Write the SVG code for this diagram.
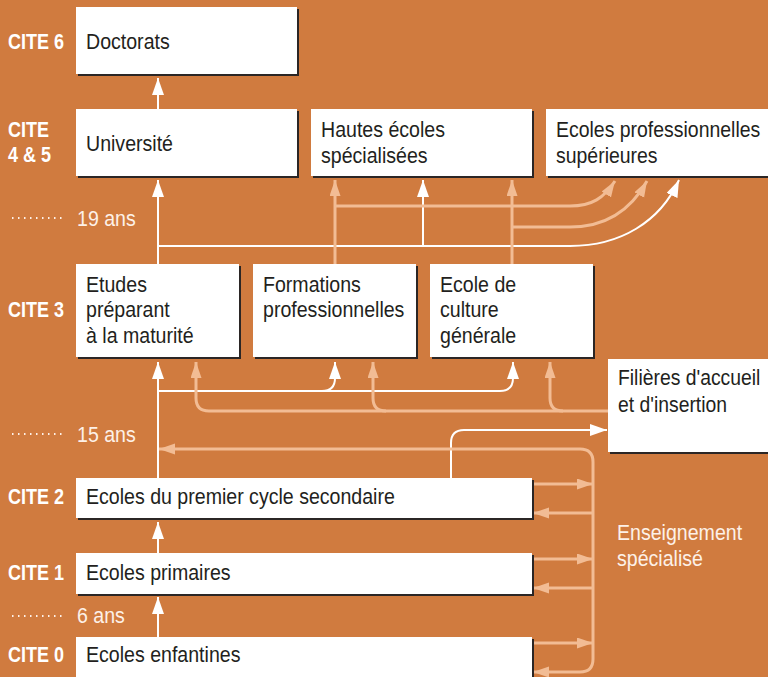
<svg xmlns="http://www.w3.org/2000/svg" width="768" height="677" viewBox="0 0 768 677">
<defs>
<style>
.bg{fill:#D07B3F}
.sh{fill:#2b2625}
.bx{fill:#ffffff}
.t{font-family:"Liberation Sans",Arial,sans-serif;font-size:22.5px;fill:#231f20}
.lb{font-family:"Liberation Sans",Arial,sans-serif;font-size:22.5px;font-weight:bold;fill:#ffffff}
.ag{font-family:"Liberation Sans",Arial,sans-serif;font-size:22.5px;fill:#fdf1e8}
.w{fill:none;stroke:#ffffff;stroke-width:2}
.p{fill:none;stroke:#F2BC94;stroke-width:3}
.dots{fill:none;stroke:#fdf1e8;stroke-width:2;stroke-dasharray:1.5 4.5}
</style>
<marker id="aw" markerWidth="18" markerHeight="14" refX="17" refY="6" orient="auto" markerUnits="userSpaceOnUse"><path d="M0,0 L17,6 L0,12 z" fill="#ffffff"/></marker>
<marker id="ap" markerWidth="18" markerHeight="14" refX="16" refY="5.5" orient="auto" markerUnits="userSpaceOnUse"><path d="M0,0 L16,5.5 L0,11 z" fill="#F2BC94"/></marker>
</defs>
<rect class="bg" x="0" y="0" width="768" height="677"/>

<g id="ages">
<path class="dots" d="M12,218 H66 M12,434 H66 M12,616 H66"/>
<text class="ag" transform="translate(77 226) scale(0.87 1)">19 ans</text>
<text class="ag" transform="translate(77 442) scale(0.87 1)">15 ans</text>
<text class="ag" transform="translate(77 623) scale(0.87 1)">6 ans</text>
</g>

<g id="levels">
<text class="lb" transform="translate(8 49) scale(0.8 1)">CITE 6</text>
<text class="lb" transform="translate(8 137) scale(0.8 1)">CITE</text>
<text class="lb" transform="translate(8 162) scale(0.8 1)">4 &amp; 5</text>
<text class="lb" transform="translate(8 317) scale(0.8 1)">CITE 3</text>
<text class="lb" transform="translate(8 504) scale(0.8 1)">CITE 2</text>
<text class="lb" transform="translate(8 580) scale(0.8 1)">CITE 1</text>
<text class="lb" transform="translate(8 662) scale(0.8 1)">CITE 0</text>
</g>

<g id="connectors">
<path class="w" d="M158,109 V78" marker-end="url(#aw)"/>
<path class="w" d="M158,264 V180" marker-end="url(#aw)"/>
<path class="w" d="M158,246 H570 C620,246 660,222 679,180" marker-end="url(#aw)"/>
<path class="w" d="M423,246 V180" marker-end="url(#aw)"/>
<path class="p" d="M335,264 V180" marker-end="url(#ap)"/>
<path class="p" d="M512,264 V180" marker-end="url(#ap)"/>
<path class="p" d="M335,206 H570 C592,206 604,198 615,181" marker-end="url(#ap)"/>
<path class="p" d="M512,227 H570 C608,227 632,208 647,181" marker-end="url(#ap)"/>

<path class="w" d="M158,478 V362" marker-end="url(#aw)"/>
<path class="w" d="M158,391 H322 Q335,391 335,378 V362" marker-end="url(#aw)"/>
<path class="w" d="M322,391 H500 Q513,391 513,378 V362" marker-end="url(#aw)"/>
<path class="p" d="M608,411 H209 Q196,411 196,398 V362" marker-end="url(#ap)"/>
<path class="p" d="M386,411 Q373,411 373,398 V362" marker-end="url(#ap)"/>
<path class="p" d="M563,411 Q550,411 550,398 V362" marker-end="url(#ap)"/>
<path class="w" d="M451,478 V443 Q451,430 464,430 H607" marker-end="url(#aw)"/>

<path class="p" d="M593,462 Q593,449 580,449 H159" marker-end="url(#ap)"/>
<path class="p" d="M593,462 V659 Q593,672 580,672 H533" marker-end="url(#ap)"/>
<path class="p" d="M533,484 H593" marker-end="url(#ap)"/>
<path class="p" d="M593,513 H533" marker-end="url(#ap)"/>
<path class="p" d="M533,559 H593" marker-end="url(#ap)"/>
<path class="p" d="M593,588 H533" marker-end="url(#ap)"/>
<path class="p" d="M533,643 H593" marker-end="url(#ap)"/>

<path class="w" d="M158,553 V522" marker-end="url(#aw)"/>
<path class="w" d="M158,637 V597" marker-end="url(#aw)"/>
</g>

<g id="doctorats">
<rect class="sh" x="78" y="9" width="221" height="67"/>
<rect class="bx" x="76" y="7" width="221" height="67"/>
<text class="t" transform="translate(86 49) scale(0.87 1)">Doctorats</text>
</g>
<g id="universite">
<rect class="sh" x="78" y="111" width="221" height="67"/>
<rect class="bx" x="76" y="109" width="221" height="67"/>
<text class="t" transform="translate(86 151) scale(0.87 1)">Université</text>
</g>
<g id="hautes-ecoles">
<rect class="sh" x="313" y="111" width="221" height="67"/>
<rect class="bx" x="311" y="109" width="221" height="67"/>
<text class="t" transform="translate(321 137) scale(0.87 1)">Hautes écoles</text>
<text class="t" transform="translate(321 163) scale(0.87 1)">spécialisées</text>
</g>
<g id="ecoles-prof-sup">
<rect class="sh" x="548" y="111" width="230" height="67"/>
<rect class="bx" x="546" y="109" width="230" height="67"/>
<text class="t" transform="translate(556 137) scale(0.865 1)">Ecoles professionnelles</text>
<text class="t" transform="translate(556 163) scale(0.865 1)">supérieures</text>
</g>
<g id="etudes-maturite">
<rect class="sh" x="78" y="266" width="163" height="93"/>
<rect class="bx" x="76" y="264" width="163" height="93"/>
<text class="t" transform="translate(86 292) scale(0.87 1)">Etudes</text>
<text class="t" transform="translate(86 317) scale(0.87 1)">préparant</text>
<text class="t" transform="translate(86 343) scale(0.87 1)">à la maturité</text>
</g>
<g id="formations-prof">
<rect class="sh" x="255" y="266" width="163" height="93"/>
<rect class="bx" x="253" y="264" width="163" height="93"/>
<text class="t" transform="translate(263 292) scale(0.87 1)">Formations</text>
<text class="t" transform="translate(263 317) scale(0.87 1)">professionnelles</text>
</g>
<g id="ecole-culture">
<rect class="sh" x="432" y="266" width="163" height="93"/>
<rect class="bx" x="430" y="264" width="163" height="93"/>
<text class="t" transform="translate(440 292) scale(0.87 1)">Ecole de</text>
<text class="t" transform="translate(440 317) scale(0.87 1)">culture</text>
<text class="t" transform="translate(440 343) scale(0.87 1)">générale</text>
</g>
<g id="filieres">
<rect class="sh" x="610" y="361" width="170" height="93"/>
<rect class="bx" x="608" y="359" width="170" height="93"/>
<text class="t" transform="translate(618 385) scale(0.86 1)">Filières d'accueil</text>
<text class="t" transform="translate(618 412) scale(0.86 1)">et d'insertion</text>
</g>
<g id="cite2">
<rect class="sh" x="78" y="480" width="456" height="40"/>
<rect class="bx" x="76" y="478" width="456" height="40"/>
<text class="t" transform="translate(86 504) scale(0.87 1)">Ecoles du premier cycle secondaire</text>
</g>
<g id="cite1">
<rect class="sh" x="78" y="555" width="456" height="41"/>
<rect class="bx" x="76" y="553" width="456" height="41"/>
<text class="t" transform="translate(86 580) scale(0.87 1)">Ecoles primaires</text>
</g>
<g id="cite0">
<rect class="sh" x="78" y="639" width="456" height="50"/>
<rect class="bx" x="76" y="637" width="456" height="50"/>
<text class="t" transform="translate(86 662) scale(0.87 1)">Ecoles enfantines</text>
</g>
<g id="enseignement-specialise">
<text class="ag" transform="translate(617 540) scale(0.87 1)">Enseignement</text>
<text class="ag" transform="translate(617 566) scale(0.87 1)">spécialisé</text>
</g>
</svg>
